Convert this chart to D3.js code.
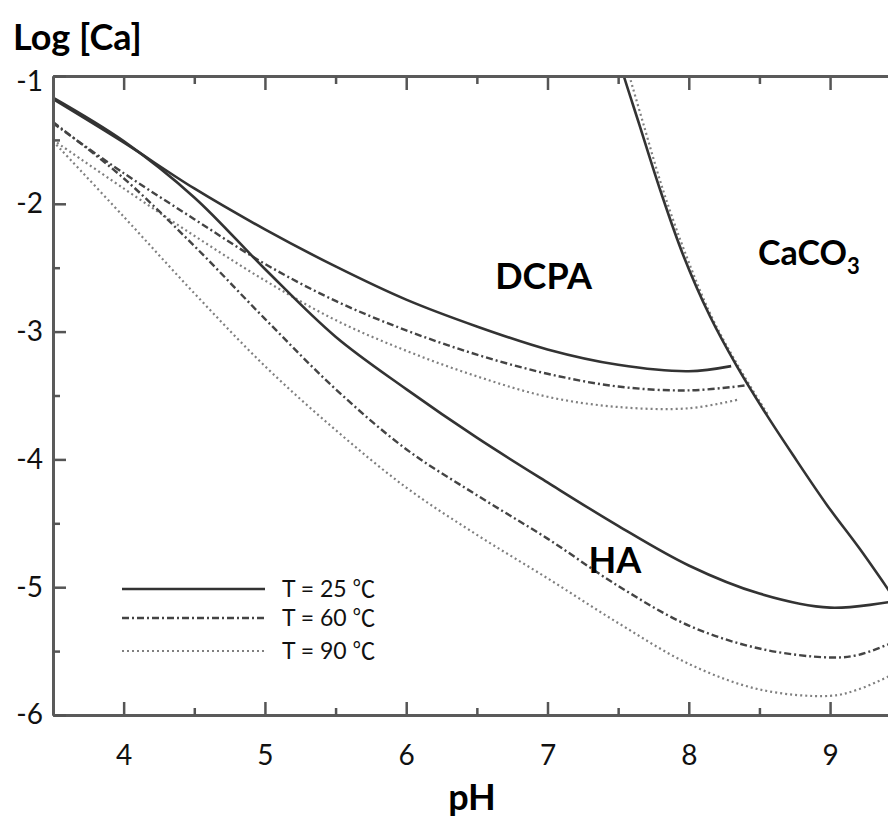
<!DOCTYPE html>
<html lang="en">

<head>
  <meta charset="utf-8">
  <title>Log [Ca] vs pH</title>
  <script src="https://cdn.jsdelivr.net/npm/d3@7"></script>
  <style>
    body { margin: 0; background: #fff; }
    svg { display: block; font-family: Lato, "Noto Sans", sans-serif; }
  </style>
</head>

<body>
  <svg class="chart"></svg>
  <script type="text/javascript">
    // data: [pH, log Ca]
    var dcpa25 = [[3.5, -1.18], [4.0, -1.52], [4.5, -1.88], [5.0, -2.20], [5.5, -2.49], [6.0, -2.75],
      [6.5, -2.96], [7.0, -3.14], [7.5, -3.26], [8.0, -3.31], [8.30, -3.27]];
    var dcpa60 = [[3.5, -1.37], [4.0, -1.76], [4.5, -2.12], [5.0, -2.47], [5.5, -2.76], [6.0, -2.99],
      [6.5, -3.18], [7.0, -3.33], [7.5, -3.43], [8.0, -3.46], [8.41, -3.42]];
    var dcpa90 = [[3.5, -1.50], [4.0, -1.88], [4.5, -2.25], [5.0, -2.60], [5.5, -2.91], [6.0, -3.15],
      [6.5, -3.35], [7.0, -3.51], [7.5, -3.59], [8.0, -3.60], [8.36, -3.53]];
    var ha25 = [[3.5, -1.17], [4.0, -1.51], [4.5, -1.95], [5.0, -2.51], [5.5, -3.04], [6.0, -3.45],
      [6.5, -3.83], [7.0, -4.18], [7.5, -4.52], [8.0, -4.83], [8.5, -5.05], [9.0, -5.16], [9.45, -5.11]];
    var ha60 = [[3.5, -1.36], [4.0, -1.80], [4.5, -2.33], [5.0, -2.90], [5.5, -3.45], [6.0, -3.92],
      [6.5, -4.28], [7.0, -4.62], [7.5, -4.99], [8.0, -5.30], [8.5, -5.48], [9.0, -5.55], [9.2, -5.53], [9.45, -5.43]];
    var ha90 = [[3.5, -1.51], [4.0, -2.10], [4.5, -2.70], [5.0, -3.27], [5.5, -3.77], [6.0, -4.22],
      [6.5, -4.59], [7.0, -4.93], [7.5, -5.28], [8.0, -5.60], [8.5, -5.80], [9.0, -5.85], [9.2, -5.80], [9.45, -5.68]];
    var caco3_25 = [[7.52, -0.92], [7.54, -1.00], [7.65, -1.38], [7.80, -1.90], [7.96, -2.40], [8.15, -2.88],
      [8.34, -3.27], [8.55, -3.65], [8.74, -3.97], [8.98, -4.36], [9.21, -4.70], [9.45, -5.08]];
    var caco3_90 = [[7.56, -0.92], [7.58, -1.00], [7.68, -1.38], [7.82, -1.90], [7.98, -2.40], [8.16, -2.88],
      [8.35, -3.27], [8.56, -3.65]];

    var xMajor = [4, 5, 6, 7, 8, 9];
    var xMinor = [4.5, 5.5, 6.5, 7.5, 8.5];
    var yMajor = [-1, -2, -3, -4, -5, -6];
    var yMinor = [-1.5, -2.5, -3.5, -4.5, -5.5];
    var legendLabels = ["T = 25 \u2103", "T = 60 \u2103", "T = 90 \u2103"];

    var w = 888;
    var h = 821;
    var mLeft = 53, mRight = 888, mTop = 76, mBottom = 715;

    var svg = d3.select("svg")
      .attr("width", w)
      .attr("height", h);

    svg.append("rect").attr("width", w).attr("height", h).attr("fill", "#fff");

    var x = d3.scaleLinear().domain([3.5, 9.41]).range([mLeft, mRight]);
    var y = d3.scaleLinear().domain([-6, -1]).range([mBottom, mTop]);

    // line styles per temperature
    var styles = [
      { color: "#333", width: 2.6, dash: null },
      { color: "#444", width: 2.4, dash: "7,3,2,3" },
      { color: "#808080", width: 2.2, dash: "2,3" }
    ];

    svg.append("clipPath").attr("id", "plot")
      .append("rect")
      .attr("x", mLeft).attr("y", mTop)
      .attr("width", mRight - mLeft).attr("height", mBottom - mTop);

    var line = d3.line()
      .x(function(d) { return x(d[0]); })
      .y(function(d) { return y(d[1]); })
      .curve(d3.curveCatmullRom.alpha(0.5));

    var curves = [
      { data: dcpa90, s: 2 }, { data: dcpa60, s: 1 }, { data: dcpa25, s: 0 },
      { data: ha90, s: 2 }, { data: ha60, s: 1 }, { data: ha25, s: 0 },
      { data: caco3_90, s: 2 }, { data: caco3_25, s: 0 }
    ];

    svg.append("g")
      .attr("clip-path", "url(#plot)")
      .selectAll("path")
      .data(curves)
      .enter()
      .append("path")
      .attr("d", function(d) { return line(d.data); })
      .attr("fill", "none")
      .attr("stroke", function(d) { return styles[d.s].color; })
      .attr("stroke-width", function(d) { return styles[d.s].width; })
      .attr("stroke-dasharray", function(d) { return styles[d.s].dash; });

    // axes
    function styleAxis(g) {
      g.attr("font-family", null).attr("font-size", null);
      g.select(".domain").attr("stroke", "#5a5a5a").attr("stroke-width", 3);
      g.selectAll(".tick line").attr("stroke", "#555").attr("stroke-width", 2.5);
      g.selectAll(".tick text").attr("fill", "#111").style("font-size", "28px");
    }

    svg.append("g")
      .attr("transform", "translate(0," + mBottom + ")")
      .call(d3.axisBottom(x).tickValues(xMajor).tickSize(-13).tickSizeOuter(0).tickPadding(30)
        .tickFormat(function(d) { return String(d); }))
      .call(styleAxis);

    svg.append("g")
      .attr("transform", "translate(0," + mBottom + ")")
      .call(d3.axisBottom(x).tickValues(xMinor).tickSize(-7).tickSizeOuter(0).tickFormat(""))
      .call(styleAxis);

    svg.append("g")
      .attr("transform", "translate(0," + mTop + ")")
      .call(d3.axisTop(x).tickValues(xMajor).tickSize(-14).tickSizeOuter(0).tickFormat(""))
      .call(styleAxis);

    svg.append("g")
      .attr("transform", "translate(0," + mTop + ")")
      .call(d3.axisTop(x).tickValues(xMinor).tickSize(-8).tickSizeOuter(0).tickFormat(""))
      .call(styleAxis);

    var yAxisG = svg.append("g")
      .attr("transform", "translate(" + mLeft + ",0)")
      .call(d3.axisLeft(y).tickValues(yMajor).tickSize(-13).tickSizeOuter(0).tickPadding(10)
        .tickFormat(function(d) { return String(d); }))
      .call(styleAxis);
    // the top label sits a little below its tick in the original
    yAxisG.selectAll(".tick text").filter(function(d) { return d === -1; }).attr("y", 6);

    svg.append("g")
      .attr("transform", "translate(" + mLeft + ",0)")
      .call(d3.axisLeft(y).tickValues(yMinor).tickSize(-7).tickSizeOuter(0).tickFormat(""))
      .call(styleAxis);

    // axis titles
    svg.append("text")
      .attr("x", 13).attr("y", 50)
      .style("font-size", "36px").style("font-weight", "bold")
      .text("Log [Ca]");

    svg.append("text")
      .attr("x", 472).attr("y", 810)
      .attr("text-anchor", "middle")
      .style("font-size", "36px").style("font-weight", "bold")
      .text("pH");

    // curve labels
    svg.append("text")
      .attr("x", x(6.63)).attr("y", y(-2.67))
      .style("font-size", "36px").style("font-weight", "bold")
      .text("DCPA");

    svg.append("text")
      .attr("x", x(7.29)).attr("y", y(-4.89))
      .style("font-size", "36px").style("font-weight", "bold")
      .text("HA");

    var caco3 = svg.append("text")
      .attr("x", x(8.49)).attr("y", y(-2.48))
      .style("font-size", "34px").style("font-weight", "bold");
    caco3.append("tspan").text("CaCO");
    caco3.append("tspan").attr("dy", 9).style("font-size", "22px").text("3");

    // legend
    var legendY = [589, 618, 651];
    var legend = svg.selectAll(".legend")
      .data(legendLabels)
      .enter()
      .append("g")
      .attr("class", "legend")
      .attr("transform", function(d, i) { return "translate(122," + legendY[i] + ")"; });

    legend.append("line")
      .attr("x1", 0).attr("x2", 143)
      .attr("stroke", function(d, i) { return styles[i].color; })
      .attr("stroke-width", function(d, i) { return styles[i].width; })
      .attr("stroke-dasharray", function(d, i) { return styles[i].dash; });

    legend.append("text")
      .attr("x", 160).attr("dy", "0.35em")
      .style("font-size", "23px")
      .style("font-family", "Lato, 'Noto Sans CJK SC', sans-serif")
      .attr("fill", "#111")
      .text(function(d) { return d; });
  </script>
</body>

</html>
